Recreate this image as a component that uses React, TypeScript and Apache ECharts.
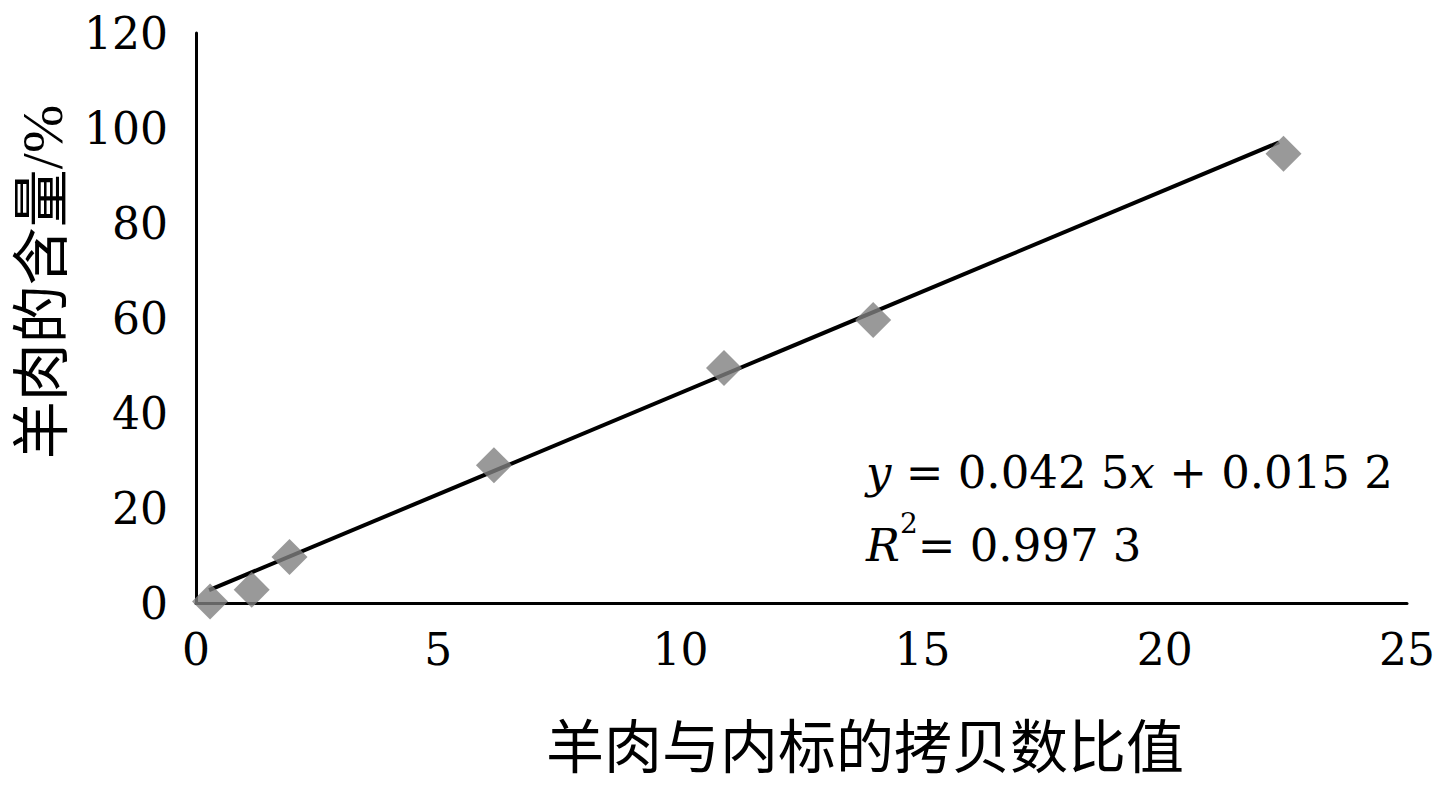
import React, { useEffect, useRef } from "react";
import * as echarts from "echarts";

// Data
const ratioX: number[] = [0.29, 1.15, 1.93, 6.15, 10.9, 13.98, 22.45];
const contentY: number[] = [0.3, 2.8, 9.7, 29.0, 49.5, 59.6, 94.6];
const trendX: number[] = [0.27, 22.36];
const trendY: number[] = [2.7, 97.0];
const xTicks: number[] = [0, 5, 10, 15, 20, 25];
const yTicks: number[] = [0, 20, 40, 60, 80, 100, 120];

const xAxisTitle = "羊肉与内标的拷贝数比值";
const yAxisTitle = "羊肉的含量/%";
const equationLine = "{i|y} = 0.042 5{i|x} + 0.015 2";
const r2Line = "{i|R}{sup|2}= 0.997 3";

const SERIF = '"DejaVu Serif", "Liberation Serif", serif';
const CJK = '"Liberation Serif", "Noto Sans CJK SC", serif';

export default function App() {
  const ref = useRef<HTMLDivElement>(null);

  useEffect(() => {
    if (!ref.current) return;
    const chart = echarts.init(ref.current, undefined, { renderer: "svg" });
    const points = ratioX.map((x, i) => [x, contentY[i]]);
    const trend = trendX.map((x, i) => [x, trendY[i]]);

    chart.setOption({
      animation: false,
      backgroundColor: "#ffffff",
      grid: { left: 196, right: 20, top: 33, bottom: 182, containLabel: false },
      xAxis: {
        type: "value",
        min: xTicks[0],
        max: xTicks[xTicks.length - 1],
        interval: xTicks[1] - xTicks[0],
        axisLine: { show: true, onZero: false, lineStyle: { color: "#000", width: 3 } },
        axisTick: { show: false },
        splitLine: { show: false },
        axisLabel: { color: "#000", fontFamily: SERIF, fontSize: 44, margin: 24 },
      },
      yAxis: {
        type: "value",
        min: yTicks[0],
        max: yTicks[yTicks.length - 1],
        interval: yTicks[1] - yTicks[0],
        axisLine: { show: true, onZero: false, lineStyle: { color: "#000", width: 3 } },
        axisTick: { show: false },
        splitLine: { show: false },
        axisLabel: { color: "#000", fontFamily: SERIF, fontSize: 44, margin: 28 },
      },
      series: [
        {
          type: "line",
          data: trend,
          symbol: "none",
          lineStyle: { color: "#000", width: 4 },
          z: 2,
        },
        {
          type: "scatter",
          data: points,
          symbol: "diamond",
          symbolSize: 36,
          itemStyle: { color: "#808080" },
          z: 3,
        },
      ],
      graphic: [
        {
          type: "text",
          left: 866,
          top: 436,
          style: {
            text: equationLine + "\n" + r2Line,
            fontFamily: SERIF,
            fontSize: 45,
            fill: "#000",
            lineHeight: 73,
            rich: {
              i: { fontFamily: SERIF, fontSize: 45, fontStyle: "italic", lineHeight: 73 },
              sup: { fontFamily: SERIF, fontSize: 28, verticalAlign: "top", lineHeight: 56 },
            },
          },
        },
        {
          type: "text",
          x: 865,
          y: 748,
          style: {
            text: xAxisTitle,
            fontFamily: CJK,
            fontSize: 58,
            fill: "#000",
            align: "center",
            verticalAlign: "middle",
          },
        },
        {
          type: "text",
          x: 42,
          y: 282,
          rotation: Math.PI / 2,
          style: {
            text: yAxisTitle,
            fontFamily: CJK,
            fontSize: 58,
            fill: "#000",
            align: "center",
            verticalAlign: "middle",
          },
        },
      ],
    });

    return () => chart.dispose();
  }, []);

  return (
    <div
      ref={ref}
      style={{ position: "fixed", left: 0, top: 0, width: 1438, height: 785, background: "#fff" }}
    />
  );
}
